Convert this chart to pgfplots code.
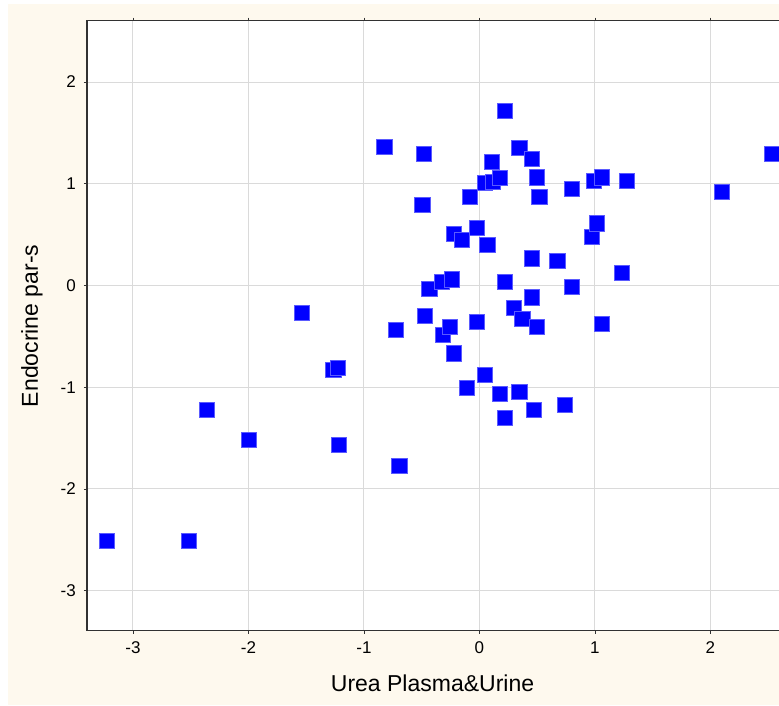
\documentclass[border=0pt]{standalone}
\usepackage{pgfplots}
\pgfplotsset{compat=1.18}
\usepackage{pgfplotstable}
\usepackage{fontspec}
\setmainfont{Liberation Sans}
\definecolor{cream}{RGB}{254,249,238}
\definecolor{gridc}{RGB}{218,218,218}
\definecolor{mkedge}{RGB}{90,90,255}
\definecolor{axc}{RGB}{50,50,50}

\pgfplotstableread{
x y
-3.228 -2.511
-2.513 -2.511
-2.362 -1.224
-1.993 -1.514
-1.539 -0.273
-1.264 -0.826
-1.229 -0.806
-1.214 -1.568
-0.824 1.366
-0.727 -0.437
-0.694 -1.774
-0.495 0.791
-0.478 1.292
-0.472 -0.300
-0.433 -0.037
-0.325 0.037
-0.320 -0.487
-0.255 -0.405
-0.241 0.061
-0.218 -0.668
-0.218 0.511
-0.149 0.452
-0.106 -1.010
-0.082 0.873
-0.024 -0.356
-0.024 0.570
0.048 -0.880
0.048 1.005
0.068 0.398
0.106 1.217
0.117 1.017
0.177 1.057
0.177 -1.066
0.221 1.718
0.221 0.037
0.221 -1.305
0.299 -0.224
0.345 1.349
0.345 -1.044
0.371 -0.329
0.452 1.243
0.452 0.267
0.452 -0.116
0.500 1.063
0.498 -0.405
0.474 -1.224
0.518 0.873
0.674 0.244
0.740 -1.175
0.798 0.948
0.798 -0.012
0.971 0.480
1.017 0.611
0.994 1.030
1.063 1.063
1.063 -0.381
1.236 0.120
1.274 1.030
2.102 0.922
2.530 1.293
}\pts

\begin{document}
\begin{tikzpicture}[x=1pt,y=1pt]
\useasboundingbox (0,0) rectangle (779,706);
\fill[white] (0,0) rectangle (779,706);
\fill[cream] (8,1) rectangle (779,702);
\begin{axis}[
  at={(87pt,75pt)}, anchor=south west,
  width=693pt, height=610.3pt, scale only axis,
  xmin=-3.398, xmax=2.602, ymin=-3.396, ymax=2.603,
  axis background/.style={fill=white},
  axis line style={axc, line width=1pt},
  grid=major,
  major grid style={gridc, line width=1pt},
  xtick={-3,-2,-1,0,1,2}, xticklabels={-3,-2,-1,0,1,2},
  ytick={-3,-2,-1,0,1,2}, yticklabels={-3,-2,-1,0,1,2},
  tick align=outside,
  major tick length=3pt,
  tick style={axc, line width=0.8pt},
  ticklabel style={font=\fontsize{17}{17}\selectfont, inner sep=0pt},
  xticklabel style={anchor=center, yshift=-14pt},
  yticklabel style={anchor=east, xshift=-8pt},
  xlabel={Urea Plasma\&Urine},
  ylabel={Endocrine par-s},
  label style={font=\fontsize{23}{23}\selectfont},
  xlabel style={at={(axis description cs:0.4986,-0.0852)}, anchor=center},
  ylabel style={at={(axis description cs:-0.0794,0.5)}, anchor=center},
  clip=true,
]
\addplot[only marks, mark=square*, mark size=7.6pt,
  mark options={draw=mkedge, fill=blue, line width=0.8pt}] table[x=x,y=y] {\pts};
\end{axis}
\end{tikzpicture}
\end{document}
